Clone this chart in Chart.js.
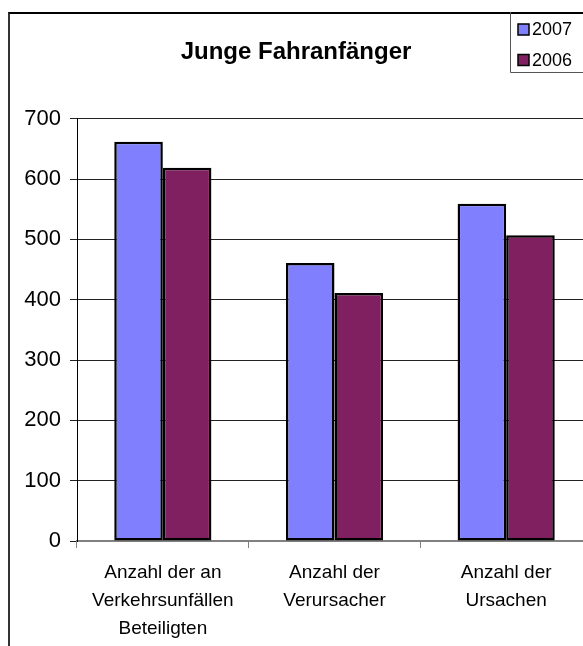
<!DOCTYPE html>
<html>
<head>
<meta charset="utf-8">
<script src="https://cdn.jsdelivr.net/npm/chart.js@4"></script>
<style>
  html, body { margin: 0; padding: 0; background: #fff; overflow: hidden; }
  #wrap { position: relative; width: 583px; height: 646px; overflow: hidden; }
  #frame { position: absolute; left: 8px; top: 12px; width: 700px; height: 700px;
           border-left: 2px solid #333; border-top: 2px solid #000; }
  #box { position: absolute; left: 0; top: 0; width: 592px; height: 646px; }
</style>
</head>
<body>
<div id="wrap">
  <div id="frame"></div>
  <div id="box"><canvas id="chart" width="592" height="646"></canvas></div>
</div>
<script>
// Daten
const kategorien = [
  ["Anzahl der an", "Verkehrsunfällen", "Beteiligten"],
  ["Anzahl der", "Verursacher"],
  ["Anzahl der", "Ursachen"]
];
const werte2007 = [662, 461, 559];
const werte2006 = [619, 411, 507];
const jahre = ["2007", "2006"];
const farben = ["#8080FF", "#802060"];
const yTicks = [0, 100, 200, 300, 400, 500, 600, 700];

// Legende im Kasten oben rechts
const legendePlugin = {
  id: "legendeKasten",
  afterDraw(c) {
    const ctx = c.ctx;
    ctx.save();
    ctx.strokeStyle = "#555";
    ctx.lineWidth = 1;
    ctx.beginPath();
    ctx.moveTo(510.5, 12);
    ctx.lineTo(510.5, 72.5);
    ctx.lineTo(592, 72.5);
    ctx.stroke();
    ctx.font = "18px 'Liberation Sans', Arial, sans-serif";
    ctx.textBaseline = "middle";
    c.data.datasets.forEach((ds, i) => {
      const y = 29.5 + i * 30.5;
      ctx.fillStyle = ds.backgroundColor;
      ctx.fillRect(518, y - 5.5, 11, 11);
      ctx.strokeStyle = "#000";
      ctx.lineWidth = 1.5;
      ctx.strokeRect(518, y - 5.5, 11, 11);
      ctx.fillStyle = "#000";
      ctx.fillText(ds.label, 532, y + 1);
    });
    ctx.restore();
  }
};

const ctx = document.getElementById("chart").getContext("2d");
new Chart(ctx, {
  type: "bar",
  data: {
    labels: kategorien,
    datasets: [
      { label: jahre[0], data: werte2007, backgroundColor: farben[0] },
      { label: jahre[1], data: werte2006, backgroundColor: farben[1] }
    ]
  },
  options: {
    responsive: false,
    animation: false,
    layout: { padding: { left: 0, right: 0, top: 0, bottom: 0 } },
    datasets: {
      bar: {
        borderColor: "#000",
        borderWidth: 2.5,
        borderSkipped: false,
        categoryPercentage: 0.566,
        barPercentage: 1
      }
    },
    scales: {
      x: {
        grid: { drawOnChartArea: false, drawTicks: true, tickLength: 7, color: "#808080" },
        border: { color: "#808080", width: 2 },
        ticks: {
          color: "#000",
          padding: 11,
          maxRotation: 0,
          font: { family: "'Liberation Sans', Arial, sans-serif", size: 19, lineHeight: 1.47 }
        },
        afterFit(s) { s.height = 105; }
      },
      y: {
        min: 0,
        max: 700,
        afterBuildTicks(s) { s.ticks = yTicks.map(v => ({ value: v })); },
        grid: { color: "#222", lineWidth: 1, tickLength: 7 },
        border: { color: "#000", width: 1 },
        ticks: {
          color: "#000",
          padding: 9,
          font: { family: "'Liberation Sans', Arial, sans-serif", size: 22 }
        },
        afterFit(s) { s.width = 77; }
      }
    },
    plugins: {
      legend: { display: false },
      tooltip: { enabled: false },
      title: {
        display: true,
        text: "Junge Fahranfänger",
        color: "#000",
        font: { family: "'Liberation Sans', Arial, sans-serif", size: 24, weight: "bold", lineHeight: 1.2 },
        padding: { top: 38, bottom: 52 }
      }
    }
  },
  plugins: [legendePlugin]
});
</script>
</body>
</html>
